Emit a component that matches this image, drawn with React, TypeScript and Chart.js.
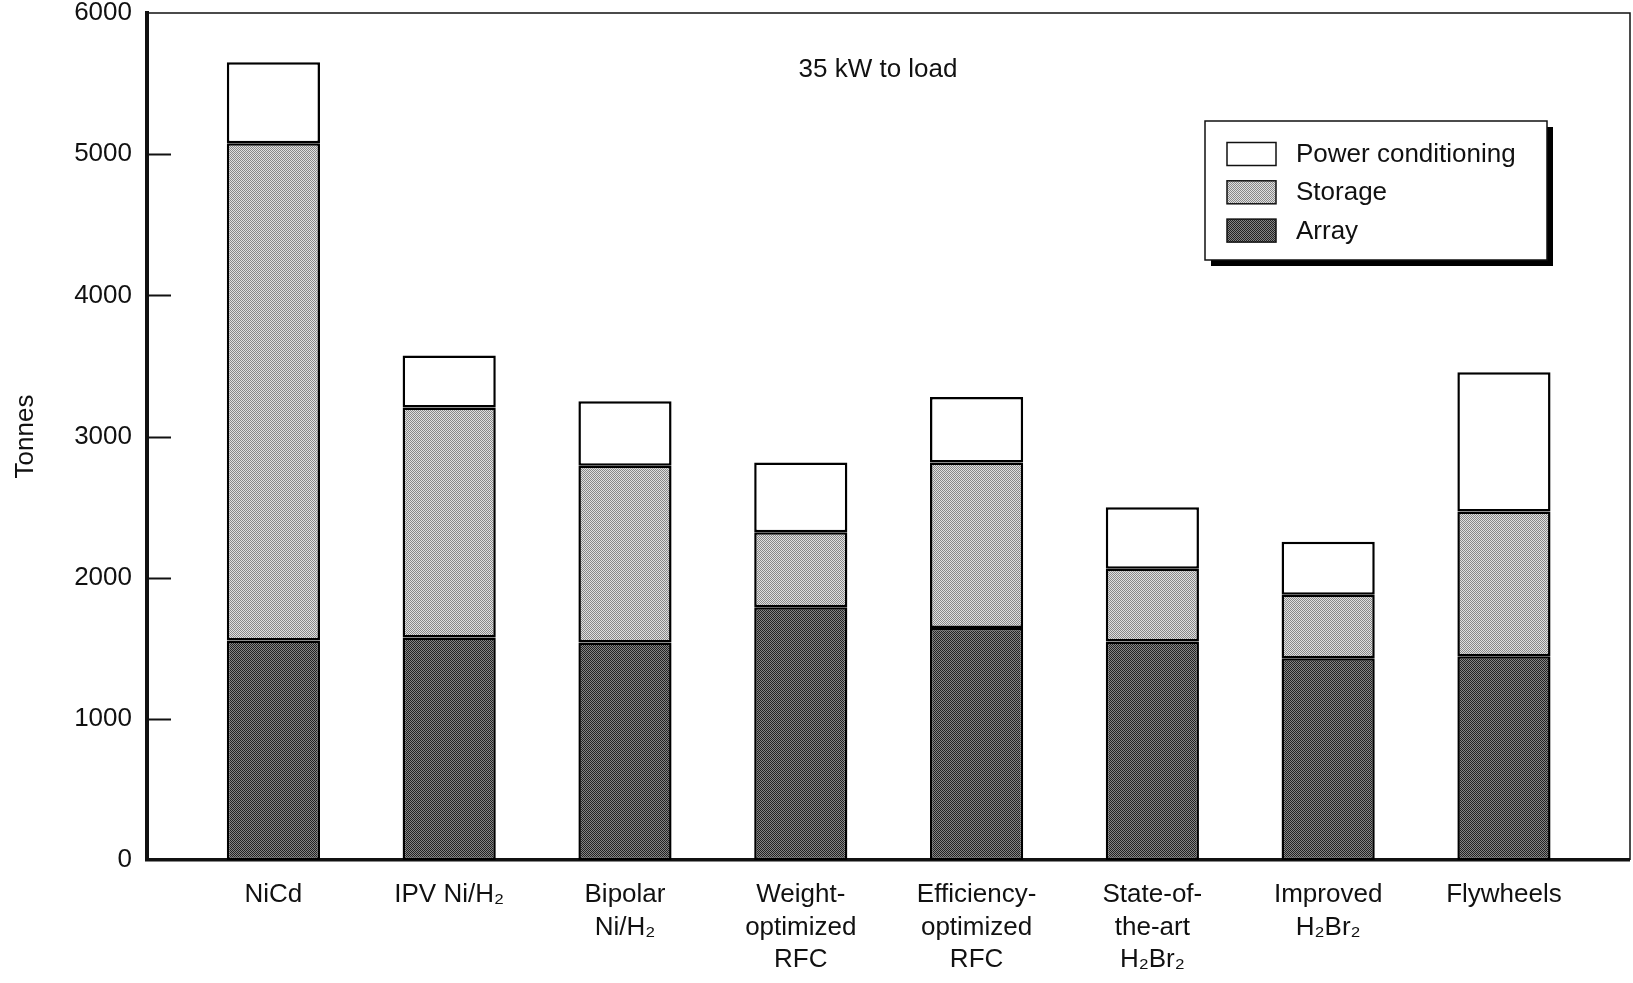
import React, { useEffect, useRef } from 'react';
import { Chart, registerables } from 'chart.js';

Chart.register(...registerables);

const categories: (string | string[])[] = [
  'NiCd',
  'IPV Ni/H₂',
  ['Bipolar', 'Ni/H₂'],
  ['Weight-', 'optimized', 'RFC'],
  ['Efficiency-', 'optimized', 'RFC'],
  ['State-of-', 'the-art', 'H₂Br₂'],
  ['Improved', 'H₂Br₂'],
  'Flywheels',
];
const arrayValues = [1555, 1577, 1540, 1791, 1643, 1548, 1430, 1444];
const storageValues = [3522, 1629, 1253, 530, 1172, 515, 449, 1025];
const powerValues = [575, 368, 457, 494, 464, 435, 376, 987];
const seriesNames = ['Array', 'Storage', 'Power conditioning'];
const yTickValues = [0, 1000, 2000, 3000, 4000, 5000, 6000];
const chartTitle = '35 kW to load';
const yAxisTitle = 'Tonnes';

const FONT = "'Liberation Sans', Arial, Helvetica, sans-serif";

function makePattern(c1: string, c2: string): CanvasPattern | string {
  const cv = document.createElement('canvas');
  cv.width = 2;
  cv.height = 2;
  const g = cv.getContext('2d');
  if (!g) return c1;
  g.fillStyle = c1;
  g.fillRect(0, 0, 2, 2);
  g.fillStyle = c2;
  g.fillRect(0, 0, 1, 1);
  g.fillRect(1, 1, 1, 1);
  const p = g.createPattern(cv, 'repeat');
  return p || c1;
}

const framePlugin = {
  id: 'frameAndDecor',
  afterDraw(chart: any) {
    const { ctx, chartArea: ca } = chart;
    const y = chart.scales.y;
    ctx.save();
    // top and right border
    ctx.strokeStyle = '#111';
    ctx.lineWidth = 1.5;
    ctx.beginPath();
    ctx.moveTo(ca.left, ca.top);
    ctx.lineTo(ca.right, ca.top);
    ctx.lineTo(ca.right, ca.bottom);
    ctx.stroke();
    // inward y ticks
    ctx.lineWidth = 2;
    yTickValues.forEach((v) => {
      if (v === yTickValues[0] || v === yTickValues[yTickValues.length - 1]) return;
      const py = Math.round(y.getPixelForValue(v)) + 0.5;
      ctx.beginPath();
      ctx.moveTo(ca.left, py);
      ctx.lineTo(ca.left + 24, py);
      ctx.stroke();
    });
    // title text
    ctx.fillStyle = '#111';
    ctx.font = `26px ${FONT}`;
    ctx.textAlign = 'center';
    ctx.textBaseline = 'middle';
    ctx.fillText(chartTitle, ca.left + 731, ca.top + 57);

    // legend
    const bx = ca.right - 425;
    const by = ca.top + 108;
    const bw = 342;
    const bh = 139;
    ctx.fillStyle = '#000';
    ctx.fillRect(bx + 6, by + 6, bw, bh);
    ctx.fillStyle = '#fff';
    ctx.fillRect(bx, by, bw, bh);
    ctx.strokeStyle = '#111';
    ctx.lineWidth = 1.5;
    ctx.strokeRect(bx, by, bw, bh);
    const ds = chart.data.datasets.slice().reverse();
    ds.forEach((d: any, i: number) => {
      const cy = by + 33 + i * 38.3;
      ctx.fillStyle = d.backgroundColor;
      ctx.fillRect(bx + 22, cy - 11.5, 49, 23);
      ctx.strokeStyle = '#111';
      ctx.lineWidth = 1.5;
      ctx.strokeRect(bx + 22, cy - 11.5, 49, 23);
      ctx.fillStyle = '#111';
      ctx.font = `26px ${FONT}`;
      ctx.textAlign = 'left';
      ctx.textBaseline = 'middle';
      ctx.fillText(d.label, bx + 91, cy + 1);
    });
    ctx.restore();
  },
};

export default function App() {
  const ref = useRef<HTMLCanvasElement | null>(null);
  useEffect(() => {
    if (!ref.current) return;
    const storagePat = makePattern('#e0e0e0', '#888888');
    const arrayPat = makePattern('#858585', '#222222');
    const fills = [arrayPat, storagePat, '#ffffff'];
    const series = [arrayValues, storageValues, powerValues];
    const chart = new Chart(ref.current, {
      type: 'bar',
      data: {
        datasets: series.map((vals, k) => ({
          label: seriesNames[k],
          data: vals.map((v, i) => ({ x: i, y: v })),
          backgroundColor: fills[k] as any,
          borderColor: '#000',
          borderWidth: 2.5,
          borderSkipped: false,
          barPercentage: 0.53,
          categoryPercentage: 1,
        })),
      },
      options: {
        animation: false,
        responsive: true,
        maintainAspectRatio: false,
        layout: { padding: { top: 13, right: 3, left: 0, bottom: 0 } },
        plugins: {
          legend: { display: false },
          tooltip: { enabled: false },
        },
        scales: {
          x: {
            type: 'linear',
            stacked: true,
            offset: false,
            min: -0.719,
            max: 7.717,
            afterFit: (s: any) => {
              s.height = 123;
              s.paddingLeft = 0;
              s.paddingRight = 0;
            },
            grid: { display: true, drawOnChartArea: false, drawTicks: false, lineWidth: 0 },
            border: { display: true, color: '#111', width: 3.5 },
            ticks: {
              stepSize: 1,
              includeBounds: false,
              autoSkip: false,
              maxRotation: 0,
              padding: 19,
              color: '#111',
              font: { family: FONT, size: 26, lineHeight: 1.24 },
              callback: (v: any) => {
                const n = Number(v);
                return Number.isInteger(n) && n >= 0 && n < categories.length ? (categories[n] as any) : '';
              },
            },
          },
          y: {
            stacked: true,
            min: yTickValues[0],
            max: yTickValues[yTickValues.length - 1],
            afterFit: (s: any) => {
              s.width = 147;
              s.paddingTop = 0;
              s.paddingBottom = 0;
            },
            grid: { display: true, drawOnChartArea: false, drawTicks: false, lineWidth: 0 },
            border: { display: true, color: '#111', width: 4 },
            ticks: {
              stepSize: 1000,
              padding: 15,
              color: '#111',
              font: { family: FONT, size: 26 },
              callback: (v: any) => String(v),
            },
            title: {
              display: true,
              text: yAxisTitle,
              color: '#111',
              font: { family: FONT, size: 26 },
              padding: { top: 10, bottom: 0 },
            },
          },
        },
      },
      plugins: [framePlugin],
    });
    return () => chart.destroy();
  }, []);
  return (
    <div style={{ position: 'fixed', left: 0, top: 0, width: 1633, height: 983, background: '#fff' }}>
      <canvas ref={ref} />
    </div>
  );
}
